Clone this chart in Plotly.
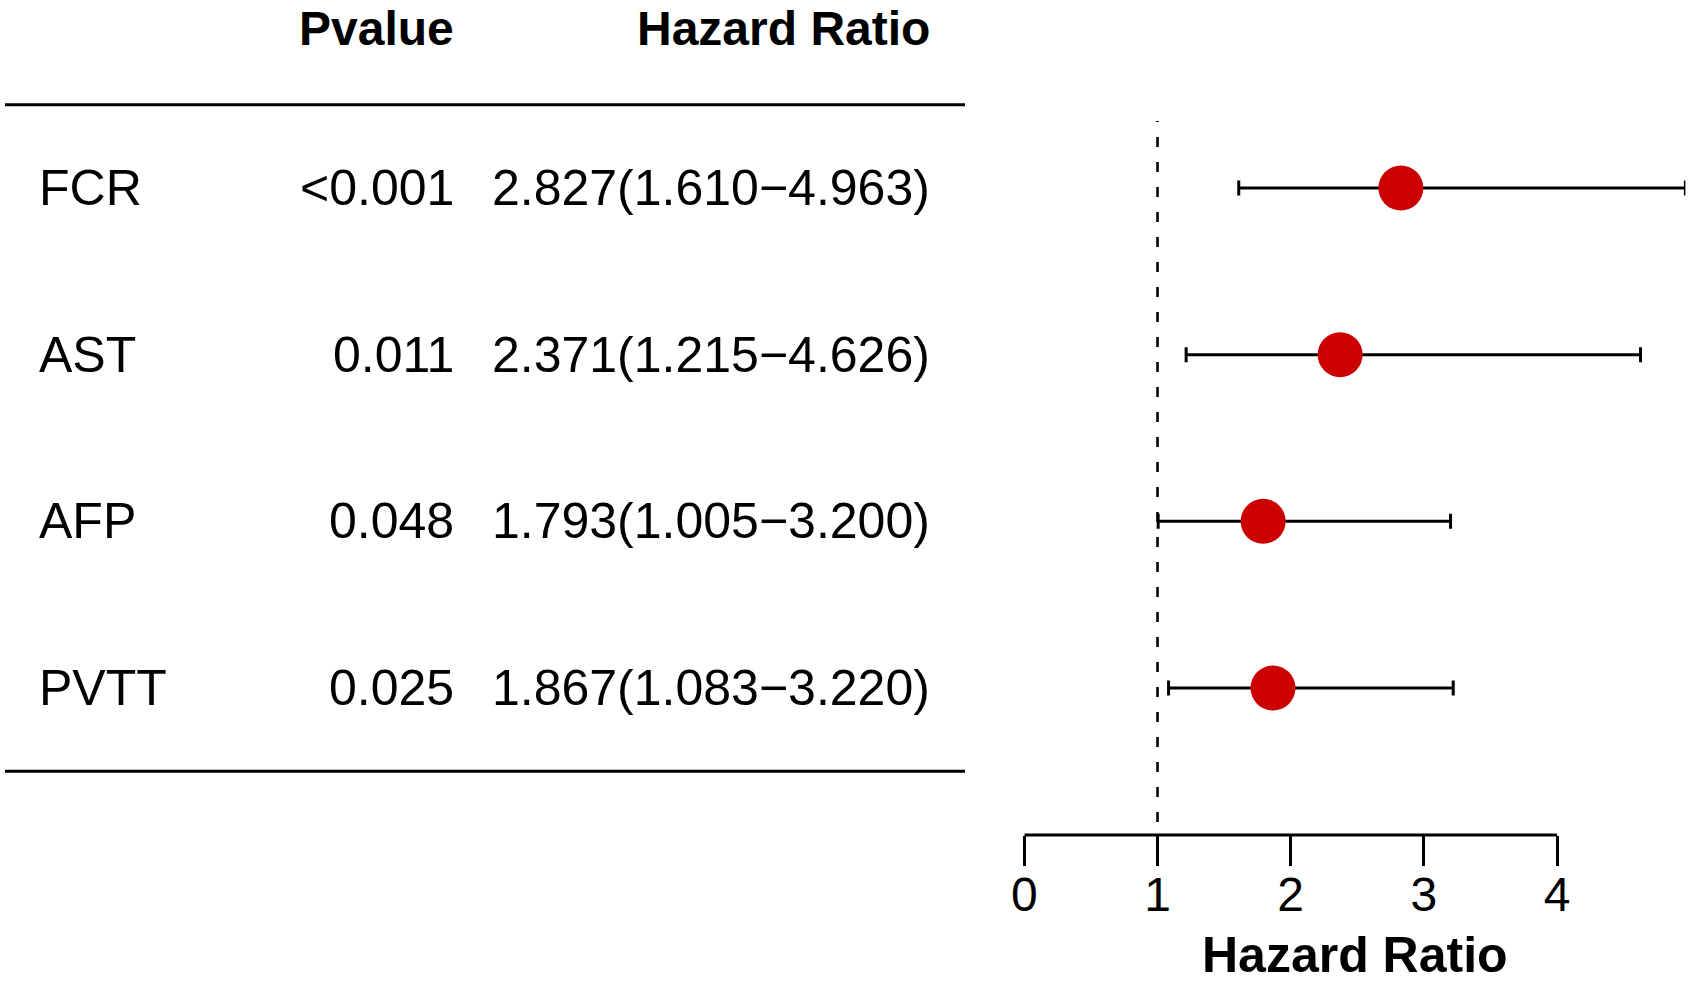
import plotly.graph_objects as go

# ---- data ----
genes = ["FCR", "AST", "AFP", "PVTT"]
pvalues = ["<0.001", "0.011", "0.048", "0.025"]
hr = [2.827, 2.371, 1.793, 1.867]
hr_low = [1.610, 1.215, 1.005, 1.083]
hr_high = [4.963, 4.626, 3.200, 3.220]
tick_vals = [0, 1, 2, 3, 4]
ref_line = 1

W, H = 1694, 982
FONT = "Liberation Sans, Arial, Helvetica, sans-serif"
n = len(genes)
rows = list(range(n, 0, -1))
hr_text = [f"{h:.3f}({l:.3f}\u2212{u:.3f})" for h, l, u in zip(hr, hr_low, hr_high)]

# pixel geometry (layout only)
px_row_top, px_row_bot = 188, 688
unit_y = (px_row_bot - px_row_top) / (n - 1)
axis_px = 835
y_top = n + px_row_top / unit_y
y_bot = 1 - (axis_px - px_row_bot) / unit_y
ydom0 = (H - axis_px) / H

x0_px, x1_px = 1024.3, 1685.4
xmax = max(hr_high)

fig = go.Figure()
fig.add_trace(go.Scatter(
    x=hr, y=rows, mode="markers",
    marker=dict(color="#CD0000", size=45, line=dict(width=0)),
    error_x=dict(type="data", symmetric=False,
                 array=[u - h for u, h in zip(hr_high, hr)],
                 arrayminus=[h - l for h, l in zip(hr, hr_low)],
                 color="black", thickness=3, width=7.5),
    cliponaxis=False, showlegend=False, hoverinfo="skip",
))

shapes = []
# dashed reference line
shapes.append(dict(type="line", xref="x", yref="y", x0=ref_line, x1=ref_line,
                   y0=0.196, y1=4.402, line=dict(color="black", width=2.6, dash="10px,15px")))
# table rules
for yv in (n + 0.5, 0.5):
    shapes.append(dict(type="line", xref="paper", yref="y", x0=5 / W, x1=965 / W,
                       y0=yv, y1=yv, line=dict(color="black", width=3)))
# axis line spanning the tick range
shapes.append(dict(type="line", xref="x", yref="paper", x0=tick_vals[0], x1=tick_vals[-1],
                   y0=ydom0, y1=ydom0, line=dict(color="black", width=2.8)))

txt_font = dict(size=50, family=FONT, color="black")
hdr_font = dict(size=48, family=FONT, color="black")
ann = []
for g, p, t, r in zip(genes, pvalues, hr_text, rows):
    ann.append(dict(text=g, x=37 / W, y=r, xref="paper", yref="y", xanchor="left",
                    yanchor="middle", showarrow=False, font=txt_font))
    ann.append(dict(text=p, x=456 / W, y=r, xref="paper", yref="y", xanchor="right",
                    yanchor="middle", showarrow=False, font=txt_font))
    ann.append(dict(text=t, x=932 / W, y=r, xref="paper", yref="y", xanchor="right",
                    yanchor="middle", showarrow=False, font=txt_font))
hdr_y = n + 0.963
ann.append(dict(text="<b>Pvalue</b>", x=456 / W, y=hdr_y, xref="paper", yref="y", xanchor="right",
                yanchor="middle", showarrow=False, font=hdr_font, height=44))
ann.append(dict(text="<b>Hazard Ratio</b>", x=932 / W, y=hdr_y, xref="paper", yref="y", xanchor="right",
                yanchor="middle", showarrow=False, font=hdr_font, height=44))
ann.append(dict(text="<b>Hazard Ratio</b>", x=(x0_px + x1_px) / 2 / W, y=(H - 955) / H,
                xref="paper", yref="paper", xanchor="center", yanchor="middle", showarrow=False,
                font=txt_font, height=44))

fig.update_layout(
    width=W, height=H, margin=dict(l=0, r=0, t=0, b=0, pad=0, autoexpand=False),
    paper_bgcolor="white", plot_bgcolor="white",
    xaxis=dict(domain=[x0_px / W, x1_px / W], range=[0, xmax], showgrid=False, zeroline=False,
               showline=False, automargin=False, tickmode="array", tickvals=tick_vals,
               ticktext=[str(v) for v in tick_vals], ticks="outside", ticklen=30, tickwidth=2.8,
               tickcolor="black", ticklabelstandoff=-13,
               tickfont=dict(size=48, family=FONT, color="black")),
    yaxis=dict(domain=[ydom0, 1], range=[y_bot, y_top], visible=False, automargin=False),
    shapes=shapes, annotations=ann,
)

fig.write_html("out.html", config={"displayModeBar": False},
               post_script="document.body.style.margin='0px';")
